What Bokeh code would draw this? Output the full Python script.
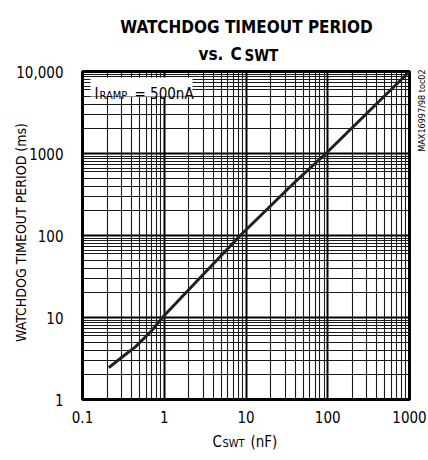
import math
from bokeh.plotting import figure
from bokeh.models import FixedTicker, Grid, BoxAnnotation, CustomJSTickFormatter
from bokeh.core.properties import value
from bokeh.embed import file_html
from bokeh.resources import INLINE

# ---- data ----
cswt_nf = [0.21, 0.30, 0.44, 0.70, 1.0, 8.5, 41.5, 95, 1000]
timeout_ms = [2.45, 3.25, 4.35, 6.9, 10.6, 100, 468, 1000, 10000]
x_ticks = [0.1, 1, 10, 100, 1000]
y_ticks = [1, 10, 100, 1000, 10000]

FONT = "DejaVu Sans Condensed"

FX0, FX1, FY0, FY1 = 82, 409, 399, 71   # frame edges in page pixels
W, H = 428, 460

p = figure(width=W, height=H, x_axis_type="log", y_axis_type="log",
           x_range=(0.1, 1000), y_range=(1, 10000),
           output_backend="svg", toolbar_location=None,
           min_border_left=FX0, min_border_right=W - FX1,
           min_border_top=FY1, min_border_bottom=H - FY0)
p.background_fill_color = "white"
p.border_fill_color = "white"
p.outline_line_color = "black"
p.outline_line_width = 3

fmt = CustomJSTickFormatter(code="""
if (tick >= 10000) { return tick.toLocaleString('en-US'); }
return String(tick);
""")

for ax, ticks in ((p.xaxis[0], x_ticks), (p.yaxis[0], y_ticks)):
    ax.ticker = FixedTicker(ticks=ticks, minor_ticks=[])
    ax.formatter = fmt
    ax.axis_line_color = None
    ax.major_tick_line_color = None
    ax.minor_tick_line_color = None
    ax.major_tick_out = 0
    ax.major_tick_in = 0
    ax.major_label_text_font = FONT
    ax.major_label_text_font_size = "15px"
    ax.major_label_text_color = "black"
p.yaxis.major_label_standoff = 19
p.xaxis.major_label_standoff = 11

# grids
p.xgrid.ticker = FixedTicker(ticks=x_ticks, minor_ticks=[])
p.ygrid.ticker = FixedTicker(ticks=y_ticks, minor_ticks=[])
for g in (p.xgrid[0], p.ygrid[0]):
    g.grid_line_color = "black"
    g.grid_line_width = 2
xminor = [m * 10 ** e for e in range(-1, 3) for m in range(2, 10)]
yminor = [m * 10 ** e for e in range(0, 4) for m in (2, 3, 4, 5, 6, 6.6, 7.3, 8, 8.6, 9.3)]
p.add_layout(Grid(dimension=0, ticker=FixedTicker(ticks=xminor, minor_ticks=[]),
                  grid_line_color="#1a1a1a", grid_line_width=1.1))
p.add_layout(Grid(dimension=1, ticker=FixedTicker(ticks=yminor, minor_ticks=[]),
                  grid_line_color="#1a1a1a", grid_line_width=1.1))

# curve
p.line(cswt_nf, timeout_ms, line_color="#231f20", line_width=3)

# helpers: page pixel -> data coordinate (for placing annotation text only)
def xd(px):
    return 10 ** (-1 + 4 * (px - FX0) / (FX1 - FX0))
def yd(py):
    return 10 ** (4 * (FY0 - py) / (FY0 - FY1))

# IRAMP box
p.add_layout(BoxAnnotation(left=xd(90), right=xd(192), top=yd(77), bottom=yd(96),
                           fill_color="white", fill_alpha=1.0, line_color=None))

def txt(text, px, py, size, bold=False, align="left", baseline="alphabetic", angle=0.0):
    p.text(x=[xd(px)], y=[yd(py)], text=[text], text_font=value(FONT),
           text_font_size=value(size), text_font_style="bold" if bold else "normal",
           text_align=align, text_baseline=baseline, angle=angle,
           text_color="black", level="overlay")

txt("I", 94, 93.3, "15px")
txt("RAMP", 99, 95.3, "11px")
txt("= 500nA", 134, 93.3, "15px")

# title
txt("WATCHDOG TIMEOUT PERIOD", 246, 26.7, "17px", bold=True, align="center")
txt("vs.", 198, 53, "17px", bold=True)
txt("C", 230, 53, "17px", bold=True)
txt("SWT", 244, 55, "15px", bold=True)

# x axis title
txt("C", 212, 441, "15px")
txt("SWT", 222, 443, "11px")
txt("(nF)", 250, 441, "15px")

# y axis title
txt("WATCHDOG TIMEOUT PERIOD (ms)", 20, 232, "14px", align="center", baseline="middle",
    angle=math.pi / 2)

# side note
txt("MAX16997/98 toc02", 421, 110, "9px", align="center", baseline="middle",
    angle=math.pi / 2)

open("out.html", "w").write(file_html(p, INLINE))
